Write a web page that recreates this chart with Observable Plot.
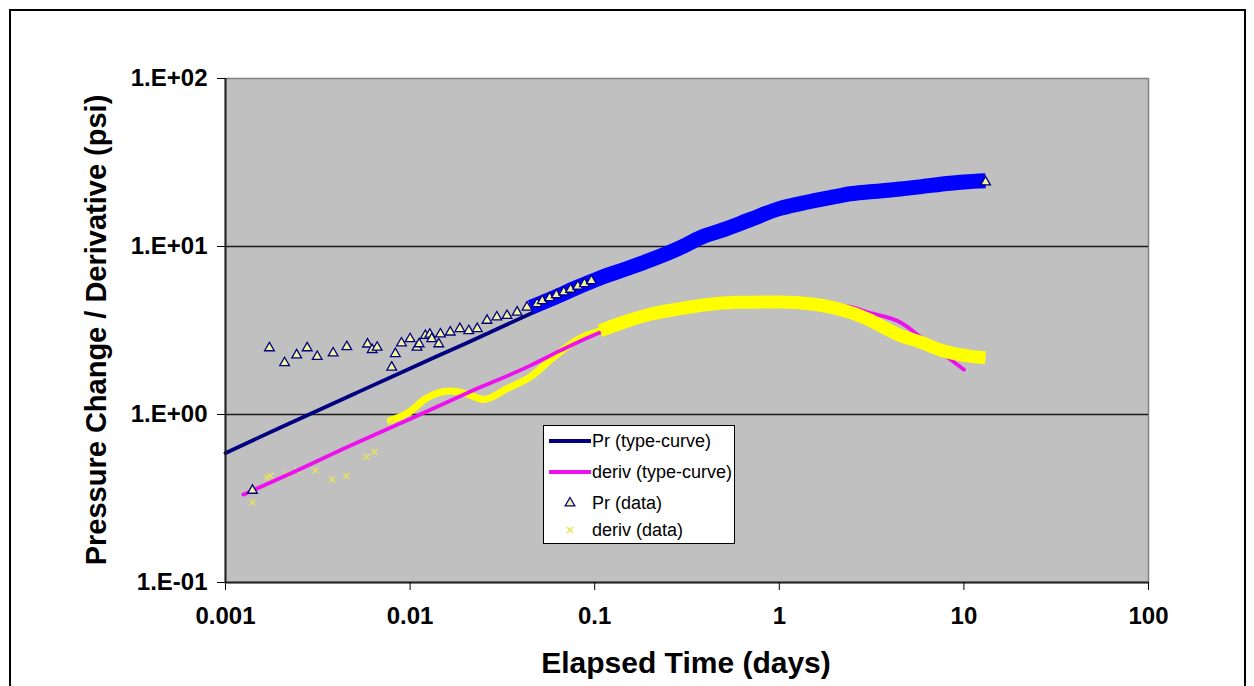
<!DOCTYPE html>
<html><head><meta charset="utf-8">
<script src="https://cdn.jsdelivr.net/npm/d3@7"></script>
<script src="https://cdn.jsdelivr.net/npm/@observablehq/plot@0.6"></script>
<style>
html,body{margin:0;padding:0;background:#fff;}
body{width:1254px;height:686px;overflow:hidden;position:relative;font-family:"Liberation Sans",Arial,sans-serif;}
#outer{position:absolute;left:9px;top:9px;width:1237px;height:700px;border:2px solid #000;box-sizing:border-box;}
#chart{position:absolute;left:0;top:0;}
#legend{position:absolute;left:543px;top:425px;width:192px;height:119px;background:#fff;border:1.5px solid #000;box-sizing:border-box;}
#legend .row{position:absolute;left:0;height:24px;width:100%;}
#legend svg{position:absolute;left:2px;top:0;}
#legend span{position:absolute;left:48px;top:1px;font-size:18px;line-height:22px;color:#000;white-space:nowrap;}
</style></head>
<body>
<div id="outer"></div>
<div id="chart"></div>
<div id="legend"></div>
<script>
// ---- data ----
const xTicks = [0.001, 0.01, 0.1, 1, 10, 100];
const xTickLabels = ["0.001", "0.01", "0.1", "1", "10", "100"];
const yTicks = [0.1, 1, 10, 100];
const yTickLabels = ["1.E-01", "1.E+00", "1.E+01", "1.E+02"];
const xTitle = "Elapsed Time (days)";
const yTitle = "Pressure Change / Derivative (psi)";
const legendLabels = ["Pr (type-curve)", "deriv (type-curve)", "Pr (data)", "deriv (data)"];

// Pr type-curve
const prCurveT = [0.001, 0.002, 0.005, 0.01, 0.02, 0.05, 0.1, 0.2, 0.5, 1, 2, 5, 10];
const prCurveV = [0.59, 0.84, 1.33, 1.88, 2.65, 4.2, 5.9, 8.1, 12.4, 16.4, 19.6, 22.2, 23.6];

// deriv type-curve
const derivCurveT = [0.00125, 0.002, 0.005, 0.01, 0.02, 0.045, 0.065, 0.107, 0.15, 0.2, 0.3, 0.48, 0.7, 1.0, 1.5, 2.0, 2.52, 3.0, 4.54, 5.82, 7.5, 10];
const derivCurveV = [0.334, 0.42, 0.67, 0.94, 1.33, 1.96, 2.4, 3.08, 3.5, 3.85, 4.25, 4.58, 4.68, 4.7, 4.62, 4.5, 4.33, 4.07, 3.53, 2.9, 2.35, 1.85];

// Pr data: sparse early points (triangles)
const prDataT = [0.0014, 0.00173, 0.00209, 0.00243, 0.00277, 0.00314, 0.00383, 0.00454, 0.00588, 0.00623, 0.00663, 0.00795, 0.00832, 0.00898, 0.0100, 0.0109, 0.0112, 0.0121, 0.0128, 0.0131, 0.0143, 0.0146, 0.0165, 0.0186, 0.0208, 0.0231, 0.0261, 0.0295, 0.0335, 0.0380, 0.043, 0.0487, 0.052, 0.057, 0.062, 0.068, 0.074, 0.081, 0.088, 0.096, 13.1];
const prDataV = [0.353, 2.49, 2.03, 2.26, 2.49, 2.21, 2.32, 2.53, 2.62, 2.43, 2.51, 1.91, 2.30, 2.66, 2.82, 2.51, 2.63, 2.95, 3.0, 2.82, 2.63, 3.01, 3.09, 3.24, 3.15, 3.24, 3.63, 3.80, 3.88, 4.06, 4.35, 4.56, 4.75, 4.95, 5.15, 5.35, 5.55, 5.8, 6.0, 6.25, 24.2];
// Pr data: dense part (overlapping markers form a band)
const prBandT = [0.045, 0.06, 0.08, 0.107, 0.15, 0.2, 0.3, 0.374, 0.5, 0.7, 1.0, 1.3, 2.0, 2.43, 3.0, 4.54, 6.0, 8.45, 10, 13.1];
const prBandV = [4.35, 4.95, 5.7, 6.5, 7.4, 8.3, 10.0, 11.3, 12.6, 14.5, 16.8, 18.0, 19.8, 20.6, 21.1, 22.0, 22.8, 23.8, 24.2, 24.6];

// deriv data: sparse early points (x markers)
const derivDataT = [0.0014, 0.00168, 0.00175, 0.00216, 0.00245, 0.00307, 0.00379, 0.00452, 0.0058, 0.00641, 0.0079];
const derivDataV = [0.30, 0.42, 0.43, 0.44, 0.465, 0.465, 0.41, 0.43, 0.56, 0.60, 0.90];
// deriv data: dense part, early (thin, scattered) and late (thick band)
const derivEarlyT = [0.0078, 0.0097, 0.0124, 0.0165, 0.02, 0.025, 0.0337, 0.045, 0.06, 0.0837, 0.107, 0.13];
const derivEarlyV = [0.92, 1.02, 1.26, 1.38, 1.33, 1.23, 1.43, 1.68, 2.2, 2.85, 3.15, 3.4];
const derivLateT = [0.107, 0.15, 0.2, 0.292, 0.4, 0.6, 1.0, 1.5, 2.0, 2.52, 3.0, 4.54, 5.82, 7.47, 10, 13.1];
const derivLateV = [3.15, 3.6, 3.95, 4.27, 4.5, 4.65, 4.68, 4.55, 4.3, 4.0, 3.7, 2.95, 2.7, 2.42, 2.25, 2.18];

// ---- build tables ----
const rows = (ts, vs) => ts.map((t, i) => ({t, v: vs[i]}));
const prCurve = rows(prCurveT, prCurveV);
const derivCurve = rows(derivCurveT, derivCurveV);
const prData = rows(prDataT, prDataV);
const prBand = rows(prBandT, prBandV);
const derivData = rows(derivDataT, derivDataV);
const derivEarly = rows(derivEarlyT, derivEarlyV);
const derivLate = rows(derivLateT, derivLateV);

const xLab = new Map(xTicks.map((d, i) => [d, xTickLabels[i]]));
const yLab = new Map(yTicks.map((d, i) => [d, yTickLabels[i]]));

const C = {navy: "#000080", magenta: "#ee11ee", blue: "#0000ff", yellow: "#ffff00", triFill: "#f4f49a", xMark: "#e4e45a"};

const plot = Plot.plot({
  width: 1254, height: 686,
  marginLeft: 225, marginRight: 106, marginTop: 78, marginBottom: 104,
  style: {background: "transparent", fontFamily: "'Liberation Sans', Arial, sans-serif", color: "#000"},
  x: {type: "log", domain: [0.001, 100]},
  y: {type: "log", domain: [0.1, 100]},
  marks: [
    Plot.frame({fill: "#c0c0c0", stroke: "#808080", strokeWidth: 1.5}),
    Plot.ruleY([1, 10], {stroke: "#1a1a1a", strokeWidth: 1.6}),
    Plot.line(prCurve, {x: "t", y: "v", stroke: C.navy, strokeWidth: 3.8, curve: "monotone-x"}),
    Plot.line(derivEarly, {x: "t", y: "v", stroke: C.yellow, strokeWidth: 7, curve: "monotone-x"}),
    Plot.dot(derivData, {x: "t", y: "v", symbol: "times", r: 2.8, stroke: C.xMark, strokeWidth: 1.4}),
    Plot.line(derivCurve, {x: "t", y: "v", stroke: C.magenta, strokeWidth: 3.8, curve: "monotone-x"}),
    Plot.line(derivLate, {x: "t", y: "v", stroke: C.yellow, strokeWidth: 13, strokeLinecap: "butt", curve: "monotone-x"}),
    Plot.line(prBand, {x: "t", y: "v", stroke: C.blue, strokeWidth: 15, strokeLinecap: "butt", curve: "monotone-x"}),
    Plot.dot(prData, {x: "t", y: "v", symbol: "triangle", r: 3.6, fill: C.triFill, stroke: C.navy, strokeWidth: 1.3}),
    Plot.ruleX([0.001], {stroke: "#222", strokeWidth: 2}),
    Plot.ruleY([0.1], {stroke: "#222", strokeWidth: 2}),
    Plot.axisX({ticks: xTicks, tickFormat: d => xLab.get(d), tickSize: 8, tickPadding: 16, fontSize: 24, fontWeight: "bold", label: null}),
    Plot.axisY({ticks: yTicks, tickFormat: d => yLab.get(d), tickSize: 8, tickPadding: 10, fontSize: 24, fontWeight: "bold", label: null})
  ]
});

const svg = d3.select(plot);
svg.append("text")
  .attr("x", 686).attr("y", 673)
  .attr("text-anchor", "middle")
  .attr("font-size", 30).attr("font-weight", "bold").attr("fill", "#000")
  .text(xTitle);
svg.append("text")
  .attr("transform", "translate(106,330) rotate(-90)")
  .attr("text-anchor", "middle")
  .attr("font-size", 29).attr("font-weight", "bold").attr("fill", "#000")
  .text(yTitle);
document.getElementById("chart").appendChild(plot);

// ---- legend ----
const legend = d3.select("#legend");
const rowTops = [3, 34, 65, 92];
legendLabels.forEach((lab, i) => {
  const row = legend.append("div").attr("class", "row").style("top", rowTops[i] + "px");
  const s = row.append("svg").attr("width", 46).attr("height", 24);
  if (i === 0) s.append("line").attr("x1", 3).attr("x2", 45).attr("y1", 12).attr("y2", 12).attr("stroke", C.navy).attr("stroke-width", 4);
  if (i === 1) s.append("line").attr("x1", 3).attr("x2", 45).attr("y1", 12).attr("y2", 12).attr("stroke", C.magenta).attr("stroke-width", 4);
  if (i === 2) s.append("path").attr("d", d3.symbol(d3.symbolTriangle, 40)()).attr("transform", "translate(24,12)").attr("fill", C.triFill).attr("stroke", C.navy).attr("stroke-width", 1.3);
  if (i === 3) s.append("path").attr("d", d3.symbol(d3.symbolTimes, 26)()).attr("transform", "translate(24,12)").attr("fill", "none").attr("stroke", C.xMark).attr("stroke-width", 1.6);
  row.append("span").text(lab);
});
</script>
</body></html>
